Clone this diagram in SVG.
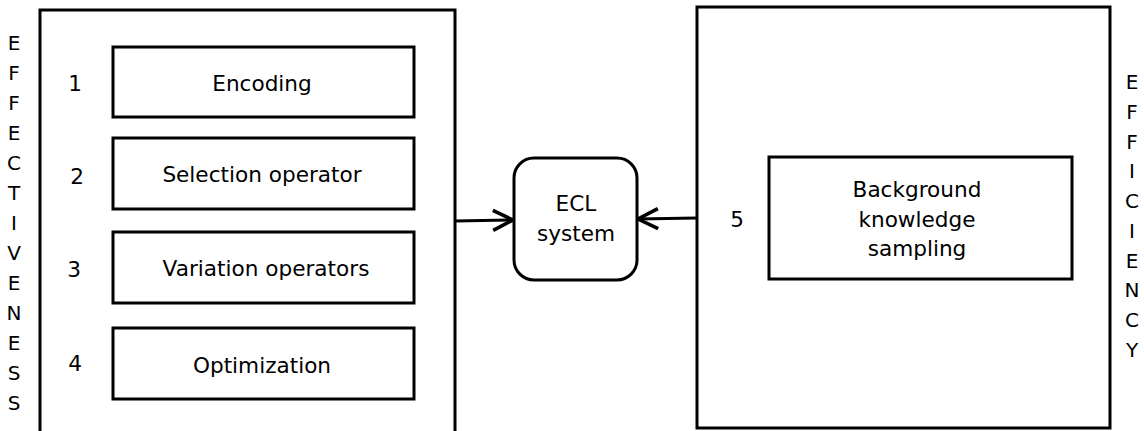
<svg xmlns="http://www.w3.org/2000/svg" width="1144" height="431" viewBox="0 0 1144 431">
<defs>
<style>
text{font-family:"DejaVu Sans",sans-serif;fill:#000;text-anchor:middle;dominant-baseline:central}
.t{font-size:21.6px}
.l{font-size:20px}
.b{fill:#fff;stroke:#000;stroke-width:3}
.c{fill:none;stroke:#000;stroke-width:3}
</style>
<marker id="ah" viewBox="0 0 24 24" refX="22" refY="12" markerWidth="24" markerHeight="24" markerUnits="userSpaceOnUse" orient="auto">
<path d="M2,2 L22,12 L2,22" fill="none" stroke="#000" stroke-width="3.5"/>
</marker>
</defs>
<rect width="1144" height="431" fill="#fff"/>
<g id="effectiveness">
<text x="14" y="43" class="l">E</text><text x="14" y="73" class="l">F</text><text x="14" y="103" class="l">F</text><text x="14" y="133" class="l">E</text><text x="14" y="163" class="l">C</text><text x="14" y="193" class="l">T</text><text x="14" y="223" class="l">I</text><text x="14" y="253" class="l">V</text><text x="14" y="283" class="l">E</text><text x="14" y="313" class="l">N</text><text x="14" y="343" class="l">E</text><text x="14" y="373" class="l">S</text><text x="14" y="403" class="l">S</text>
</g>
<g id="efficiency">
<text x="1132" y="82" class="l">E</text><text x="1132" y="112" class="l">F</text><text x="1132" y="142" class="l">F</text><text x="1132" y="171" class="l">I</text><text x="1132" y="201" class="l">C</text><text x="1132" y="231" class="l">I</text><text x="1132" y="261" class="l">E</text><text x="1132" y="290" class="l">N</text><text x="1132" y="320" class="l">C</text><text x="1132" y="350" class="l">Y</text>
</g>
<g id="left-container"><rect x="40" y="10" width="415" height="430" class="b"/></g>
<g id="encoding"><rect x="113" y="47" width="301" height="70" class="b"/><text x="262" y="83" class="t">Encoding</text><text x="75" y="83" class="t">1</text></g>
<g id="selection"><rect x="113" y="138" width="301" height="71" class="b"/><text x="262" y="174" class="t">Selection operator</text><text x="77" y="176" class="t">2</text></g>
<g id="variation"><rect x="113" y="232" width="301" height="71" class="b"/><text x="266" y="268" class="t">Variation operators</text><text x="74" y="269" class="t">3</text></g>
<g id="optimization"><rect x="113" y="328" width="301" height="71" class="b"/><text x="262" y="365" class="t">Optimization</text><text x="75" y="363" class="t">4</text></g>
<g id="right-container"><rect x="697" y="7" width="413" height="421" class="b"/></g>
<g id="background"><rect x="769" y="157" width="303" height="122" class="b"/><text x="917" y="189" class="t">Background</text><text x="917" y="219" class="t">knowledge</text><text x="917" y="248" class="t">sampling</text><text x="737" y="219" class="t">5</text></g>
<g id="ecl"><rect x="514" y="158" width="123" height="122" rx="20" class="b"/><text x="576" y="203" class="t">ECL</text><text x="576" y="233" class="t">system</text></g>
<g id="connectors">
<path d="M455,221 L513,220" class="c" marker-end="url(#ah)"/>
<path d="M697,218 L638,219" class="c" marker-end="url(#ah)"/>
</g>
</svg>
